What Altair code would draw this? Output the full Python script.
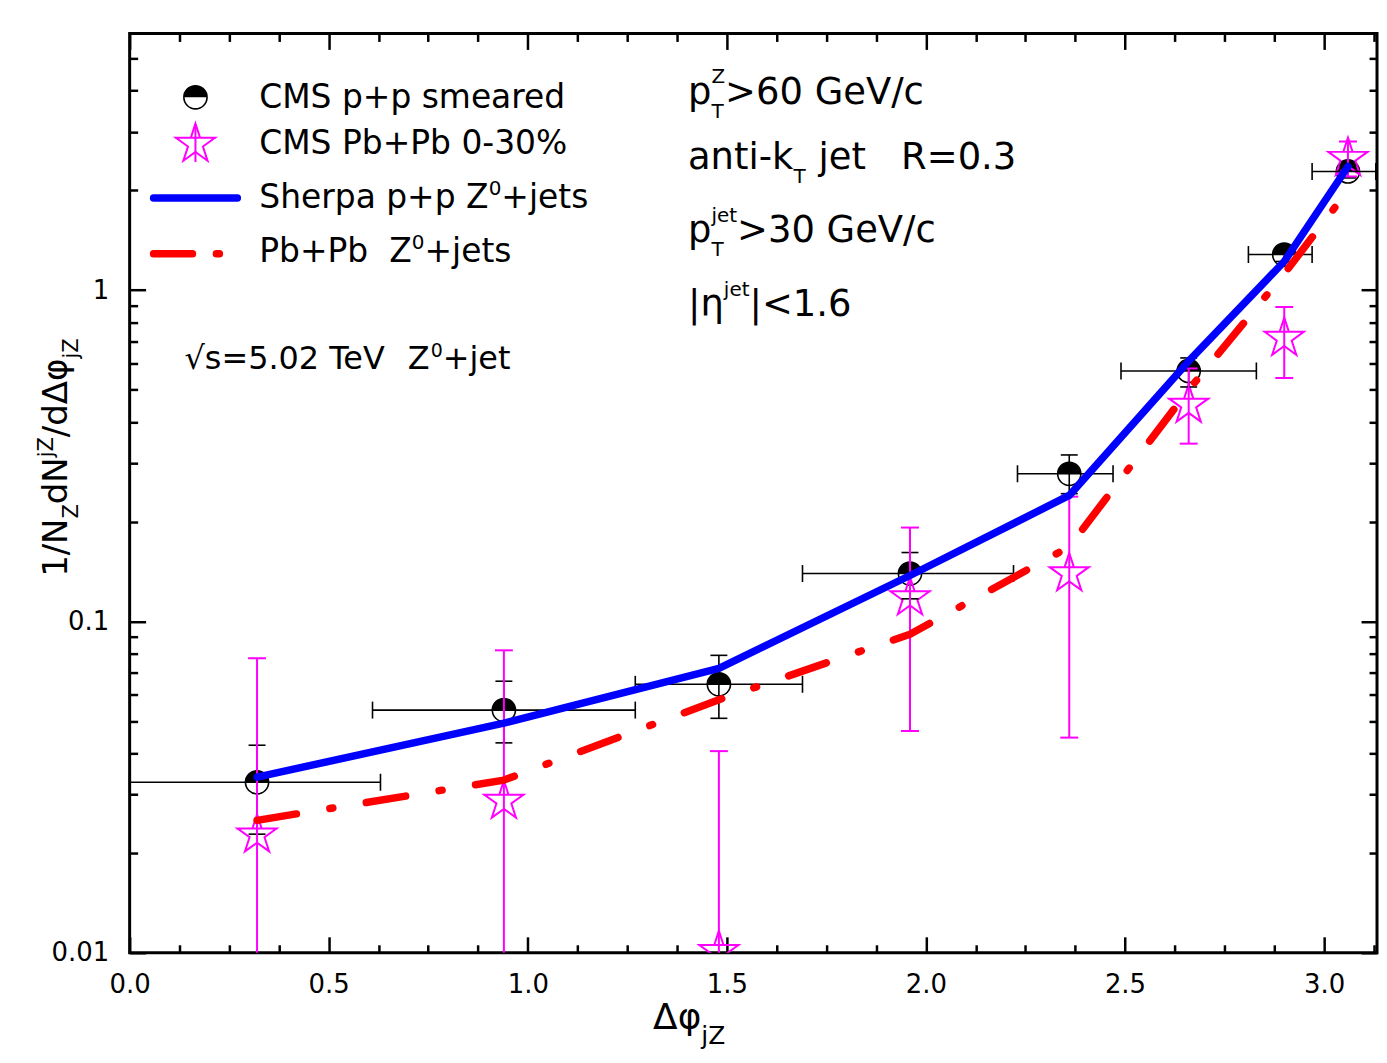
import math
import altair as alt
import pandas as pd

FONT = "DejaVu Sans"
BLUE, RED, MAG = "#0000FF", "#FF0000", "#FF00FF"

# ---------------- data ----------------
dphi = [0.32, 0.94, 1.48, 1.96, 2.36, 2.66, 2.90, 3.06]
pp_val = [0.0327, 0.054, 0.0646, 0.1395, 0.279, 0.57, 1.28, 2.28]
pp_lo = [0.0228, 0.043, 0.051, 0.117, 0.243, 0.51, 1.22, 2.18]
pp_hi = [0.0423, 0.066, 0.079, 0.1614, 0.318, 0.624, 1.34, 2.38]
pp_xlo = [0.00, 0.61, 1.27, 1.69, 2.23, 2.49, 2.81, 2.97]
pp_xhi = [0.63, 1.27, 1.69, 2.22, 2.47, 2.83, 2.97, 3.13]
aa_val = [0.0227, 0.0287, 0.0101, 0.118, 0.1395, 0.45, 0.716, 2.5]
aa_lo = [None, None, None, 0.0467, 0.0446, 0.344, 0.543, 2.2]   # None = below the axis
aa_hi = [0.0774, 0.0818, 0.0406, 0.192, 0.238, 0.58, 0.889, 2.81]
sherpa = [0.0339, 0.0493, 0.0722, 0.1376, 0.24, 0.61, 1.22, 2.36]
pbpb = [0.0251, 0.0332, 0.058, 0.0915, 0.168, 0.50, 1.12, 2.0]

x_major = [0.0, 0.5, 1.0, 1.5, 2.0, 2.5, 3.0]
x_minor = [0.125, 0.25, 0.375, 0.625, 0.75, 0.875, 1.125, 1.25, 1.375,
           1.625, 1.75, 1.875, 2.125, 2.25, 2.375, 2.625, 2.75, 2.875, 3.125]
y_major = [0.01, 0.1, 1]
y_minor = [0.02, 0.03, 0.04, 0.05, 0.06, 0.07, 0.08, 0.09,
           0.2, 0.3, 0.4, 0.5, 0.6, 0.7, 0.8, 0.9, 2, 3, 4, 5]

legend_labels = ["CMS p+p smeared", "CMS Pb+Pb 0-30%", "Sherpa p+p Z", "Pb+Pb  Z"]

df = pd.DataFrame({
    "x": dphi, "pp": pp_val, "pplo": pp_lo, "pphi": pp_hi,
    "xlo": pp_xlo, "xhi": pp_xhi,
    "aa": aa_val, "aalo": [v if v is not None else 0.001 for v in aa_lo], "aahi": aa_hi,
    "sh": sherpa, "pb": pbpb,
})
ONE = pd.DataFrame({"k": [0]})

# ---------------- geometry ----------------
W, H = 1251, 922
XS = alt.Scale(domain=[0, 3.133], nice=False, zero=False)
YS = alt.Scale(type="log", domain=[0.01, 5.95], nice=False)

# symbols
star_pts = []
for i in range(10):
    a = -math.pi / 2 + i * math.pi / 5
    r = 1.0 if i % 2 == 0 else 0.382
    star_pts.append((r * math.cos(a), r * math.sin(a)))
STAR = "M" + " L".join(f"{px:.3f},{py:.3f}" for px, py in star_pts) + " Z M -1,-0.309 L 1,-0.309"
HALF = "M -1,0 A 1,1 0 0 1 1,0 Z"
CIRC_SIZE = 540
STAR_SIZE = 1700


def ex(field, axis=None):
    return alt.X(f"{field}:Q", scale=XS, axis=axis)


def ey(field, axis=None):
    return alt.Y(f"{field}:Q", scale=YS, axis=axis)


def tick_axis(orient, values, size, offset):
    return alt.Axis(orient=orient, values=values, labels=False, domain=False, grid=False,
                    ticks=True, tickSize=size, tickWidth=2.5, tickColor="black",
                    offset=offset, title=None)


ax_x_lab = alt.Axis(orient="bottom", values=x_major, format=".1f", labelFontSize=26,
                    labelFont=FONT, labelColor="black", ticks=False, domain=False, grid=False,
                    labelPadding=19, title=None, labelFlush=False, labelOverlap=False)
ax_y_lab = alt.Axis(orient="left", values=y_major, format="~g", labelFontSize=26,
                    labelFont=FONT, labelColor="black", ticks=False, domain=False, grid=False,
                    labelPadding=21, title=None, labelOverlap=False)

base = alt.Chart(df)

# symbols (carry the axes)
circ = base.mark_point(shape="circle", filled=True, fill="white", stroke="black",
                       strokeWidth=1.6, size=CIRC_SIZE, opacity=1).encode(
    x=ex("x", ax_x_lab), y=ey("pp", ax_y_lab))
half = base.mark_point(shape=HALF, filled=True, fill="black", strokeWidth=0,
                       size=CIRC_SIZE, opacity=1).encode(
    x=ex("x", tick_axis("top", x_major, 16, -H)),
    y=ey("pp", tick_axis("right", y_major, 16, -W)))
stars = base.mark_point(shape=STAR, filled=False, stroke=MAG, strokeWidth=2,
                        size=STAR_SIZE, opacity=1, clip=True).encode(
    x=ex("x", tick_axis("top", x_minor, 8, -H)),
    y=ey("aa", tick_axis("right", y_minor, 8, -W)))

# error bars
pp_xerr = base.mark_rule(color="black", strokeWidth=1.6).encode(
    x=ex("xlo", tick_axis("bottom", x_major, 16, -H)), x2="xhi:Q",
    y=ey("pp", tick_axis("left", y_major, 16, -W)))
pp_yerr = base.mark_rule(color="black", strokeWidth=1.6).encode(
    x=ex("x", tick_axis("bottom", x_minor, 8, -H)),
    y=ey("pplo", tick_axis("left", y_minor, 8, -W)), y2="pphi:Q")
pp_cap_lo = base.mark_tick(orient="horizontal", size=17, thickness=1.6, color="black",
                           opacity=1).encode(x=ex("x"), y=ey("pplo"))
pp_cap_hi = base.mark_tick(orient="horizontal", size=17, thickness=1.6, color="black",
                           opacity=1).encode(x=ex("x"), y=ey("pphi"))
pp_cap_l = base.mark_tick(orient="vertical", size=17, thickness=1.6, color="black",
                          opacity=1).encode(x=ex("xlo"), y=ey("pp"))
pp_cap_r = base.mark_tick(orient="vertical", size=17, thickness=1.6, color="black",
                          opacity=1).encode(x=ex("xhi"), y=ey("pp"))
aa_err = base.mark_rule(color=MAG, strokeWidth=2, clip=True).encode(
    x=ex("x"), y=ey("aalo"), y2="aahi:Q")
aa_cap_lo = base.mark_tick(orient="horizontal", size=18, thickness=2, color=MAG,
                           opacity=1, clip=True).encode(x=ex("x"), y=ey("aalo"))
aa_cap_hi = base.mark_tick(orient="horizontal", size=18, thickness=2, color=MAG,
                           opacity=1, clip=True).encode(x=ex("x"), y=ey("aahi"))

# curves
blue_line = base.mark_line(color=BLUE, strokeWidth=7.5, strokeCap="round",
                           strokeJoin="round").encode(x=ex("x"), y=ey("sh"))
red_line = base.mark_line(color=RED, strokeWidth=7.5, strokeCap="round", strokeJoin="round",
                          strokeDash=[40, 34, 3, 34]).encode(x=ex("x"), y=ey("pb"))

# ---------------- rich text helper ----------------
CW = {" ": 318, "\u00a0": 318, "!": 401, "%": 950, "+": 838, "-": 361, ".": 318, "/": 337,
      "<": 838, "=": 838, ">": 838, "|": 337, "\u221a": 636, "\u0394": 684, "\u03c6": 660,
      "\u03b7": 634,
      "A": 684, "B": 686, "C": 698, "D": 770, "E": 632, "G": 775, "M": 863, "N": 748,
      "P": 603, "R": 695, "S": 635, "T": 611, "V": 684, "Z": 685,
      "a": 613, "b": 635, "c": 550, "d": 635, "e": 615, "h": 634, "i": 278, "j": 278,
      "k": 579, "m": 974, "n": 634, "p": 635, "r": 411, "s": 521, "t": 392}
for dgt in "0123456789":
    CW[dgt] = 636


def tw(s, fs):
    return sum(CW.get(ch, 600) for ch in s) * fs / 1000.0


def rich(groups, x0, y0, rotate=False):
    """groups: list of lists of (text, size, rise), a number (extra gap in px)
    or ('@', page_x) to jump to an absolute start.  Page coords -> plot coords."""
    out = []
    pos = 0.0
    ox, oy = x0 - 130, y0 - 32
    for grp in groups:
        if isinstance(grp, (int, float)):
            pos += grp
            continue
        if isinstance(grp, tuple) and grp[0] == "@":
            pos = grp[1] - x0
            continue
        wmax = 0.0
        for text, fs, rise in grp:
            t = text.replace(" ", "\u00a0")
            if rotate:
                px, py, ang = ox - rise, oy - pos, 270
            else:
                px, py, ang = ox + pos, oy - rise, 0
            out.append(alt.Chart(ONE).mark_text(
                text=t, fontSize=fs, font=FONT, align="left", baseline="alphabetic",
                angle=ang, color="black").encode(x=alt.value(px), y=alt.value(py)))
            wmax = max(wmax, tw(t, fs))
        pos += wmax
    return out


texts = []
# legend texts
LF, SF = 33, 20
texts += rich([[(legend_labels[0], LF, 0)]], 260, 107)
texts += rich([[(legend_labels[1], LF, 0)]], 260, 153)
texts += rich([[(legend_labels[2], LF, 0)], [("0", SF, 13)], [("+jets", LF, 0)]], 260, 207)
texts += rich([[(legend_labels[3], LF, 0)], [("0", SF, 13)], [("+jets", LF, 0)]], 260, 261)
# annotations
AF, AS = 37, 20
texts += rich([[("p", AF, 0)], [("Z", AS, 21), ("T", AS, -14)], [(">60 GeV/c", AF, 0)]], 690, 103)
texts += rich([[("anti-k", AF, 0)], [("T", AS, -14)], 13, [("jet   R=0.3", AF, 0)]], 690, 168)
texts += rich([[("p", AF, 0)], [("jet", AS, 20), ("T", AS, -14)], [(">30 GeV/c", AF, 0)]], 690, 241)
texts += rich([[("|\u03b7", AF, 0)], [("jet", AS, 20)], [("|<1.6", AF, 0)]], 690, 315)
texts += rich([[("\u221as=5.02 TeV", 32, 0)], ("@", 409), [("Z", 32, 0)], 1, [("0", 19, 13)],
               [("+jet", 32, 0)]], 185, 369)
# axis titles
texts += rich([[("\u0394\u03c6", 36, 0)], [("jZ", 25, -16)]], 655, 1030)
texts += rich([[("1/N", 34, 0)], [("Z", 21, -11)], [("dN", 34, 0)], [("jZ", 21, 14)],
               [("/d\u0394\u03c6", 34, 0)], [("jZ", 21, -11)]], 67, 577, rotate=True)

# ---------------- legend symbols ----------------
leg = [
    alt.Chart(ONE).mark_point(shape="circle", filled=True, fill="white", stroke="black",
                              strokeWidth=1.6, size=CIRC_SIZE, opacity=1).encode(
        x=alt.value(66), y=alt.value(64)),
    alt.Chart(ONE).mark_point(shape=HALF, filled=True, fill="black", strokeWidth=0,
                              size=CIRC_SIZE, opacity=1).encode(x=alt.value(66), y=alt.value(64)),
    alt.Chart(ONE).mark_point(shape=STAR, filled=False, stroke=MAG, strokeWidth=2,
                              size=STAR_SIZE, opacity=1).encode(x=alt.value(66), y=alt.value(111)),
    alt.Chart(ONE).mark_rule(color=MAG, strokeWidth=2).encode(
        x=alt.value(66), y=alt.value(91), y2=alt.value(129)),
    alt.Chart(ONE).mark_rule(color=BLUE, strokeWidth=7.5, strokeCap="round").encode(
        x=alt.value(24), x2=alt.value(108), y=alt.value(165)),
    alt.Chart(ONE).mark_rule(color=RED, strokeWidth=7.5, strokeCap="round",
                             strokeDash=[39, 24, 3, 24]).encode(
        x=alt.value(24), x2=alt.value(91), y=alt.value(221)),
]

layers = [circ, half, stars, pp_xerr, pp_yerr, pp_cap_lo, pp_cap_hi, pp_cap_l, pp_cap_r,
          aa_err, aa_cap_lo, aa_cap_hi, blue_line, red_line] + leg + texts

chart = alt.layer(*layers).resolve_axis(x="independent", y="independent").properties(
    width=W, height=H,
    padding={"left": 122, "top": 24, "right": 2, "bottom": 97},
    autosize=alt.AutoSizeParams(type="none"),
    background="white",
).configure_view(stroke="black", strokeWidth=3)

chart.save("out.html", embed_options={"renderer": "svg", "actions": False})
